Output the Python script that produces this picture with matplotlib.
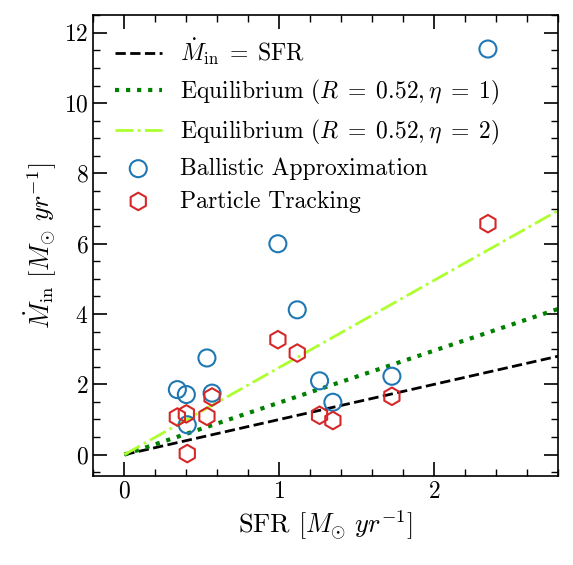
import numpy as np
import matplotlib
matplotlib.use("Agg")
import matplotlib.pyplot as plt
from matplotlib.ticker import MultipleLocator

plt.rcParams['font.family'] = 'serif'
plt.rcParams['font.serif'] = ['cmr10', 'DejaVu Serif']
plt.rcParams['mathtext.fontset'] = 'cm'
plt.rcParams['axes.formatter.use_mathtext'] = True

# SFR and inflow rates
sfr = [0.342, 0.40, 0.406, 0.533, 0.566, 0.991, 1.116, 1.26, 1.346, 1.727, 2.347]
mdot_ballistic = [1.85, 1.71, 0.85, 2.75, 1.75, 6.0, 4.12, 2.10, 1.49, 2.23, 11.54]
mdot_tracking = [1.07, 1.16, 0.03, 1.09, 1.64, 3.27, 2.89, 1.12, 0.97, 1.66, 6.57]

R = 0.52
etas = [1, 2]

x_line = np.array([0.0, 3.0])

fig, ax = plt.subplots(figsize=(5.73, 5.65), dpi=100)
fig.subplots_adjust(left=0.163, right=0.974, top=0.973, bottom=0.158)

ax.plot(x_line, x_line, ls='--', color='black', lw=2.0,
        label=r'$\dot{M}_{\rm in}\;=\;{\rm SFR}$')
ax.plot(x_line, (1 - R + etas[0]) * x_line, ls=':', color='green', lw=3.0,
        label=r'Equilibrium $(R\;=\;%.2f, \eta\;=\;%d)$' % (R, etas[0]))
ax.plot(x_line, (1 - R + etas[1]) * x_line, ls='-.', color='greenyellow', lw=2.0,
        label=r'Equilibrium $(R\;=\;%.2f, \eta\;=\;%d)$' % (R, etas[1]))

ax.scatter(sfr, mdot_ballistic, s=150, marker='o', facecolors='none', edgecolors='tab:blue',
           linewidths=1.5, label='Ballistic Approximation', zorder=3)
ax.scatter(sfr, mdot_tracking, s=160, marker='h', facecolors='none', edgecolors='tab:red',
           linewidths=1.5, label='Particle Tracking', zorder=3)

ax.set_xlim(-0.2, 2.8)
ax.set_ylim(-0.6, 12.5)
ax.xaxis.set_major_locator(MultipleLocator(1))
ax.xaxis.set_minor_locator(MultipleLocator(0.2))
ax.yaxis.set_major_locator(MultipleLocator(2))
ax.yaxis.set_minor_locator(MultipleLocator(0.5))
ax.tick_params(which='both', direction='in', top=True, right=True, labelsize=17)
ax.tick_params(which='major', length=10, width=1.2)
ax.tick_params(which='minor', length=5, width=1.0)
for s in ax.spines.values():
    s.set_linewidth(1.2)

ax.set_xlabel(r'SFR $[M_{\odot}\ yr^{-1}]$', fontsize=19)
ax.set_ylabel(r'$\dot{M}_{\rm in}\ [M_{\odot}\ yr^{-1}]$', fontsize=19)

ax.legend(loc='upper left', frameon=False, fontsize=17, handlelength=2.0,
          handletextpad=0.75, labelspacing=0.45)

fig.savefig('out.png', dpi=100)
